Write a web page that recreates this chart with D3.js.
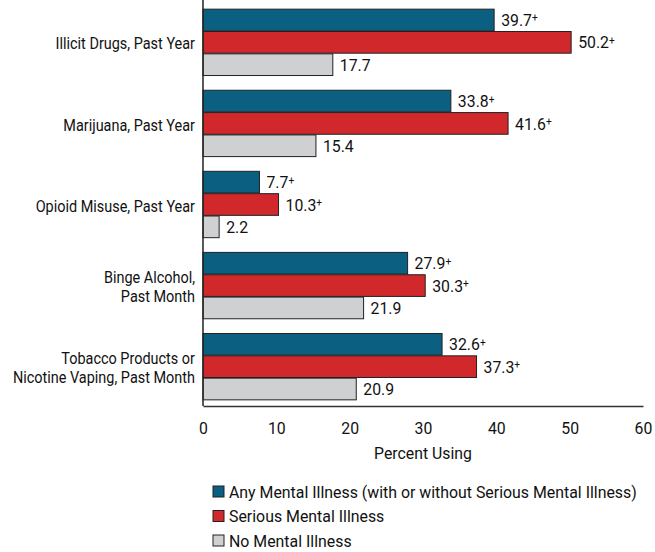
<!DOCTYPE html>
<html lang="en">
<head>
<meta charset="utf-8">
<title>Substance Use by Mental Illness Status</title>
<script src="https://cdnjs.cloudflare.com/ajax/libs/d3/7.8.5/d3.min.js"></script>
<style>
  body { margin: 0; background: #fff; }
  text { font-family: "Roboto", "Liberation Sans", sans-serif; fill: #111; }
</style>
</head>
<body>
<div id="chart"></div>
<script>
// categories (one label line per array entry)
var categories = [
  ["Illicit Drugs, Past Year"],
  ["Marijuana, Past Year"],
  ["Opioid Misuse, Past Year"],
  ["Binge Alcohol,", "Past Month"],
  ["Tobacco Products or", "Nicotine Vaping, Past Month"]
];
var seriesNames = [
  "Any Mental Illness (with or without Serious Mental Illness)",
  "Serious Mental Illness",
  "No Mental Illness"
];
var anyMI     = [39.7, 33.8, 7.7, 27.9, 32.6];
var seriousMI = [50.2, 41.6, 10.3, 30.3, 37.3];
var noMI      = [17.7, 15.4, 2.2, 21.9, 20.9];
// "+" marks a significant difference from No Mental Illness
var flagged   = [true, true, false];
var xTicks = [0, 10, 20, 30, 40, 50, 60];
var colors = ["#0b5f80", "#d0282b", "#cfd0d2"];

var width = 655, height = 552;
var margin = { left: 203 };
var plotBottom = 406;
var fontSize = "17px";

var svg = d3.select("#chart").append("svg")
  .attr("width", width)
  .attr("height", height);

var x = d3.scaleLinear().domain([0, 60]).range([margin.left, 643]);

var y0 = d3.scaleBand()
  .domain(d3.range(categories.length))
  .range([2, plotBottom + 1])
  .paddingInner(0.165)
  .paddingOuter(0.08);

var y1 = d3.scaleBand()
  .domain(d3.range(seriesNames.length))
  .range([0, y0.bandwidth()])
  .padding(0.03);

var series = [anyMI, seriousMI, noMI];

// narrow the glyphs a bit to mimic a condensed face
function squeeze(sel, px, py, s) {
  sel.attr("transform", "translate(" + px + "," + py + ") scale(" + s + ",1)");
}

var groups = svg.selectAll(".group")
  .data(categories)
  .enter().append("g")
  .attr("class", "group")
  .attr("transform", function(d, i) { return "translate(0," + y0(i) + ")"; });

groups.each(function(cat, ci) {
  var g = d3.select(this);
  series.forEach(function(vals, si) {
    g.append("rect")
      .attr("x", x(0))
      .attr("y", y1(si))
      .attr("width", x(vals[ci]) - x(0))
      .attr("height", y1.bandwidth())
      .attr("fill", colors[si])
      .attr("stroke", "#222")
      .attr("stroke-width", 1);

    var t = g.append("text")
      .attr("dy", "0.36em")
      .style("font-size", fontSize)
      .text(vals[ci].toFixed(1))
      .call(squeeze, x(vals[ci]) + 7, y1(si) + y1.bandwidth() / 2, 0.93);
    if (flagged[si]) {
      t.append("tspan")
        .attr("dy", "-0.42em")
        .style("font-size", "11px")
        .text("+");
    }
  });

  // category label, right aligned next to the axis
  var lbl = g.append("text")
    .attr("text-anchor", "end")
    .style("font-size", fontSize)
    .call(squeeze, margin.left - 8, y0.bandwidth() / 2 + 1, 0.85);
  var n = cat.length;
  cat.forEach(function(line, li) {
    lbl.append("tspan")
      .attr("x", 0)
      .attr("dy", li === 0 ? (0.36 - (n - 1) * 0.55) + "em" : "1.1em")
      .text(line);
  });
});

// axes
var xAxis = d3.axisBottom(x).tickValues(xTicks).tickSize(0).tickPadding(16);
var gx = svg.append("g")
  .attr("transform", "translate(0," + plotBottom + ")")
  .call(xAxis);
gx.select(".domain").attr("stroke", "#333").attr("stroke-width", 1.5);
gx.selectAll(".tick text")
  .style("font-size", fontSize)
  .attr("fill", "#111")
  .attr("transform", "scale(0.93,1)");

svg.append("line")
  .attr("x1", x(0)).attr("x2", x(0))
  .attr("y1", 0).attr("y2", plotBottom)
  .attr("stroke", "#222").attr("stroke-width", 1.5);

svg.append("text")
  .attr("text-anchor", "middle")
  .style("font-size", fontSize)
  .text("Percent Using")
  .call(squeeze, x(30), 459, 0.93);

// legend
var legend = svg.selectAll(".legend")
  .data(seriesNames)
  .enter().append("g")
  .attr("class", "legend")
  .attr("transform", function(d, i) { return "translate(213," + (486 + i * 24.5) + ")"; });

legend.append("rect")
  .attr("width", 11).attr("height", 11)
  .attr("fill", function(d, i) { return colors[i]; })
  .attr("stroke", "#222");

legend.append("text")
  .attr("dy", "0.36em")
  .style("font-size", fontSize)
  .text(function(d) { return d; })
  .call(squeeze, 16, 5.5, 0.935);
</script>
</body>
</html>
